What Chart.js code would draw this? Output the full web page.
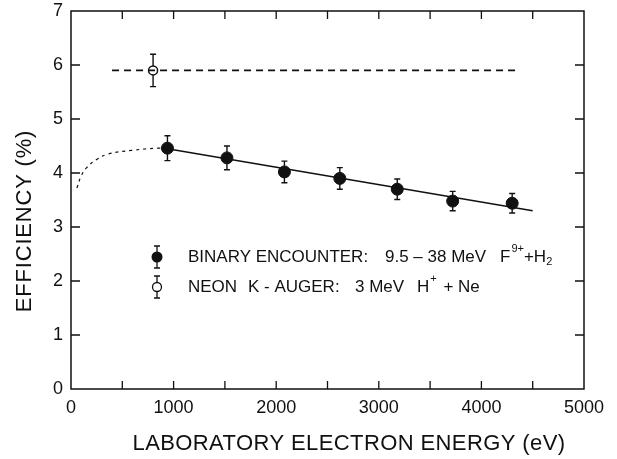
<!DOCTYPE html>
<html>
<head>
<meta charset="utf-8">
<script src="https://cdn.jsdelivr.net/npm/chart.js@4.4.1/dist/chart.umd.min.js"></script>
<style>
  html, body { margin: 0; padding: 0; background: #fff; }
  #wrap { width: 617px; height: 459px; }
</style>
</head>
<body>
<div id="wrap"><canvas id="efficiency"></canvas></div>
<script>
// binary encounter: 9.5-38 MeV F9+ + H2
const energyBinary = [940, 1520, 2080, 2620, 3180, 3720, 4300];
const effBinary = [4.46, 4.28, 4.02, 3.90, 3.70, 3.48, 3.44];
const errBinary = [0.23, 0.22, 0.20, 0.20, 0.19, 0.18, 0.18];

// neon K-Auger: 3 MeV H+ + Ne
const energyAuger = [800];
const effAuger = [5.9];
const errAuger = [0.3];

// lines drawn through the data
const augerLineX = [400, 4350];
const augerLineY = [5.9, 5.9];
const fitLineX = [940, 4500];
const fitLineY = [4.45, 3.30];
const lowCurveX = [58, 100, 153, 250, 360, 590, 850, 940];
const lowCurveY = [3.72, 3.95, 4.10, 4.25, 4.35, 4.42, 4.46, 4.46];

const xTicks = [0, 1000, 2000, 3000, 4000, 5000];
const yTicks = [0, 1, 2, 3, 4, 5, 6, 7];

const xTitle = 'LABORATORY ELECTRON ENERGY (eV)';
const yTitle = 'EFFICIENCY (%)';

const ink = '#111';
const FONT = '"Liberation Sans", Arial, sans-serif';

const pts = (xs, ys) => xs.map((x, i) => ({ x: x, y: ys[i] }));

// error bars, inward ticks, frame, titles and the legend
const framePlugin = {
  id: 'frame',
  beforeDatasetsDraw(chart) {
    const { ctx, scales: { x, y } } = chart;
    ctx.save();
    ctx.strokeStyle = ink;
    ctx.lineWidth = 1.4;
    const bars = (xs, ys, es) => {
      xs.forEach((xv, i) => {
        const px = x.getPixelForValue(xv);
        const top = y.getPixelForValue(ys[i] + es[i]);
        const bot = y.getPixelForValue(ys[i] - es[i]);
        ctx.beginPath();
        ctx.moveTo(px, top); ctx.lineTo(px, bot);
        ctx.moveTo(px - 3, top); ctx.lineTo(px + 3, top);
        ctx.moveTo(px - 3, bot); ctx.lineTo(px + 3, bot);
        ctx.stroke();
      });
    };
    bars(energyBinary, effBinary, errBinary);
    bars(energyAuger, effAuger, errAuger);
    ctx.restore();
  },
  afterDraw(chart) {
    const { ctx, chartArea: a, scales: { x, y } } = chart;
    ctx.save();
    ctx.strokeStyle = ink;
    ctx.fillStyle = ink;
    ctx.lineWidth = 1.5;
    ctx.strokeRect(a.left, a.top, a.right - a.left, a.bottom - a.top);

    ctx.lineWidth = 1.3;
    for (let v = 500; v < 5000; v += 500) {
      const px = x.getPixelForValue(v);
      ctx.beginPath();
      ctx.moveTo(px, a.bottom); ctx.lineTo(px, a.bottom - 8);
      ctx.moveTo(px, a.top); ctx.lineTo(px, a.top + 8);
      ctx.stroke();
    }
    for (let v = 1; v < 7; v++) {
      const py = y.getPixelForValue(v);
      ctx.beginPath();
      ctx.moveTo(a.left, py); ctx.lineTo(a.left + 9, py);
      ctx.moveTo(a.right, py); ctx.lineTo(a.right - 9, py);
      ctx.stroke();
    }

    // axis titles
    ctx.textBaseline = 'middle';
    ctx.textAlign = 'center';
    ctx.font = '22px ' + FONT;
    ctx.letterSpacing = '0.4px';
    ctx.fillText(xTitle, a.left + 278, a.bottom + 55);
    ctx.save();
    ctx.translate(25, a.top + 210);
    ctx.rotate(-Math.PI / 2);
    ctx.letterSpacing = '0.8px';
    ctx.fillText(yTitle, 0, 0);
    ctx.restore();
    ctx.letterSpacing = '0px';
    ctx.textAlign = 'left';

    // legend
    const L = a.left;
    const marker = (cx, cy, filled) => {
      ctx.beginPath();
      ctx.moveTo(cx, cy - 11); ctx.lineTo(cx, cy + 11);
      ctx.moveTo(cx - 3, cy - 11); ctx.lineTo(cx + 3, cy - 11);
      ctx.moveTo(cx - 3, cy + 11); ctx.lineTo(cx + 3, cy + 11);
      ctx.stroke();
      ctx.beginPath();
      ctx.arc(cx, cy, filled ? 5.5 : 4.5, 0, Math.PI * 2);
      if (filled) ctx.fill();
      else { ctx.fillStyle = '#fff'; ctx.fill(); ctx.fillStyle = ink; ctx.stroke(); }
    };
    const big = '17px ' + FONT;
    const small = '11px ' + FONT;
    const put = (txt, px, py, font) => {
      ctx.font = font;
      ctx.fillText(txt, px, py);
      return px + ctx.measureText(txt).width;
    };

    const y1 = 257, y2 = 287;
    marker(L + 86, y1, true);
    put('BINARY ENCOUNTER:', L + 117, y1, big);
    put('9.5 \u2013 38 MeV', L + 314, y1, big);
    let px = put('F', L + 429, y1, big);
    px = put('9+', px + 1, y1 - 8, small);
    px = put('+H', px, y1, big);
    put('2', px, y1 + 5, small);

    marker(L + 86, y2, false);
    put('NEON', L + 117, y2, big);
    put('K - AUGER:', L + 177, y2, big);
    put('3 MeV', L + 284, y2, big);
    px = put('H', L + 346, y2, big);
    px = put('+', px + 1, y2 - 8, small);
    put(' + Ne', px + 2, y2, big);
    ctx.restore();
  }
};

new Chart(document.getElementById('efficiency'), {
  type: 'scatter',
  data: {
    datasets: [
      {
        label: 'lowCurve',
        data: pts(lowCurveX, lowCurveY),
        showLine: true,
        borderColor: ink,
        borderWidth: 1.2,
        borderDash: [3, 4],
        pointRadius: 0,
        tension: 0.4
      },
      {
        label: 'fit',
        data: pts(fitLineX, fitLineY),
        showLine: true,
        borderColor: ink,
        borderWidth: 1.6,
        pointRadius: 0
      },
      {
        label: 'augerLine',
        data: pts(augerLineX, augerLineY),
        showLine: true,
        borderColor: ink,
        borderWidth: 1.6,
        borderDash: [7, 5],
        pointRadius: 0
      },
      {
        label: 'BINARY ENCOUNTER',
        data: pts(energyBinary, effBinary),
        pointRadius: 6,
        pointBackgroundColor: ink,
        pointBorderColor: ink
      },
      {
        label: 'NEON K-AUGER',
        data: pts(energyAuger, effAuger),
        pointRadius: 4.5,
        pointBackgroundColor: '#fff',
        pointBorderColor: ink,
        pointBorderWidth: 1.5
      }
    ]
  },
  options: {
    responsive: true,
    maintainAspectRatio: false,
    animation: false,
    layout: { padding: { top: 11, right: 33, left: 0, bottom: 0 } },
    plugins: {
      legend: { display: false },
      tooltip: { enabled: false }
    },
    scales: {
      x: {
        type: 'linear',
        min: 0,
        max: 5000,
        afterBuildTicks: s => { s.ticks = xTicks.map(v => ({ value: v })); },
        afterFit: s => { s.height = 70; s.paddingLeft = 0; s.paddingRight = 0; },
        grid: { display: false, drawTicks: false },
        border: { display: false },
        ticks: { color: ink, font: { family: FONT, size: 18 }, padding: 8, maxRotation: 0, callback: v => String(v) }
      },
      y: {
        type: 'linear',
        min: 0,
        max: 7,
        afterBuildTicks: s => { s.ticks = yTicks.map(v => ({ value: v })); },
        afterFit: s => { s.width = 71; s.paddingTop = 0; s.paddingBottom = 0; },
        grid: { display: false, drawTicks: false },
        border: { display: false },
        ticks: { color: ink, font: { family: FONT, size: 18 }, padding: 8, callback: v => String(v) }
      }
    }
  },
  plugins: [framePlugin]
});
</script>
</body>
</html>
